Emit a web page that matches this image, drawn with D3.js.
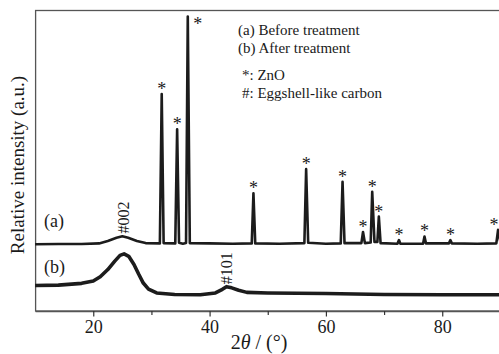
<!DOCTYPE html>
<html>
<head>
<meta charset="utf-8">
<script src="https://cdn.jsdelivr.net/npm/d3@7"></script>
<style>
  html, body { margin: 0; padding: 0; background: #fff; }
  svg { display: block; font-family: "Liberation Serif", "DejaVu Serif", serif; }
</style>
</head>
<body>
<div id="chart"></div>
<script>
// (a) before treatment: [2theta, intensity a.u.], peaks included
const seriesA = [
  [10, 22.2], [14, 22.3], [18, 22.3], [21, 22.5], [22.5, 23.3], [24, 24.4], [25, 24.9],
  [26, 24.4], [27.5, 23.3], [29, 22.6], [31.45, 22.5], [31.77, 72.2], [32.1, 22.6],
  [34.1, 22.5], [34.42, 60.5], [34.75, 22.7], [35.4, 22.4], [35.95, 22.6], [36.25, 98.0],
  [36.6, 22.6], [40, 22.5], [44, 22.4], [47.25, 22.5], [47.54, 39.2], [47.85, 22.5],
  [52, 22.4], [56.3, 22.6], [56.6, 47.2], [56.95, 22.7], [60, 22.4], [62.55, 22.5],
  [62.86, 43.0], [63.2, 22.6], [66.1, 22.6], [66.38, 26.3], [66.7, 22.6], [67.7, 22.8],
  [67.96, 39.7], [68.35, 23.0], [68.85, 23.0], [69.1, 31.4], [69.4, 22.6], [72.3, 22.4],
  [72.56, 23.6], [72.8, 22.4], [76.7, 22.4], [76.95, 24.8], [77.2, 22.5], [81.15, 22.5],
  [81.4, 23.6], [81.65, 22.5], [86, 22.4], [89.3, 22.5], [89.6, 27.0], [90, 22.8]
];

// (b) after treatment
const seriesB = [
  [10, 8.5], [14, 8.6], [18, 9.2], [20, 10.0], [21.2, 11.4], [22.5, 13.8], [23.7, 16.6],
  [24.6, 18.5], [25.3, 19.0], [26.1, 18.2], [27, 15.5], [27.8, 12.3], [28.6, 9.3],
  [29.5, 7.3], [30.9, 6.0], [34, 5.5], [38.4, 5.4], [41, 6.0], [42.2, 7.2], [42.9, 8.1],
  [43.8, 7.7], [45, 6.9], [46.4, 6.2], [50, 6.0], [60, 5.8], [70, 5.5], [80, 5.4], [90, 5.4]
];

// ZnO reflections marked with "*"
const znoTheta = [31.77, 34.42, 36.25, 47.54, 56.6, 62.86, 66.38, 67.96, 69.1, 72.56, 76.95, 81.4, 89.6];
const znoTop   = [72.2, 60.5, 98.0, 39.2, 47.2, 43.0, 26.3, 39.7, 31.4, 23.6, 24.8, 23.6, 27.0];

// eggshell-like carbon reflections marked with "#"
const carbonLabels = ["#002", "#101"];
const carbonTheta  = [25.1, 42.9];
const carbonTop    = [25.8, 8.9];

const curveLabels = ["(a)", "(b)"];
const curveLabelLevel = [29.9, 14.8];

const legendLines = ["(a) Before treatment", "(b) After treatment", "*: ZnO", "#: Eggshell-like carbon"];

const xTicks = [20, 40, 60, 80];
const xMinor = [30, 50, 70];

const width = 499, height = 354;
const plotLeft = 35.1, plotRight = 500.4, plotTop = 10.5, plotBottom = 311;

const svg = d3.select("#chart").append("svg")
  .attr("width", width)
  .attr("height", height);

const x = d3.scaleLinear().domain([10, 90]).range([plotLeft, plotRight]);
const y = d3.scaleLinear().domain([0, 100]).range([plotBottom, plotTop]);

const line = d3.line()
  .x((d) => x(d[0]))
  .y((d) => y(d[1]));

// frame
svg.append("rect")
  .attr("x", plotLeft + 0.5)
  .attr("y", plotTop)
  .attr("width", plotRight - plotLeft)
  .attr("height", plotBottom - plotTop)
  .attr("fill", "none")
  .attr("stroke", "#555")
  .attr("stroke-width", 1.3);

// data
[seriesB, seriesA].forEach((s, i) => {
  svg.append("path")
    .datum(s)
    .attr("fill", "none")
    .attr("stroke", "#1c1c1c")
    .attr("stroke-width", i === 0 ? 3.6 : 2.6)
    .attr("stroke-linejoin", "round")
    .attr("d", line);
});

// x axis
const xAxis = svg.append("g")
  .attr("transform", `translate(0,${plotBottom})`)
  .call(d3.axisBottom(x).tickValues(xTicks).tickSize(5.5).tickPadding(3.5).tickSizeOuter(0));
xAxis.select(".domain").attr("stroke", "#555").attr("stroke-width", 1.3);
xAxis.selectAll(".tick line").attr("stroke", "#333").attr("stroke-width", 1.2);
xAxis.selectAll(".tick text")
  .attr("fill", "#1a1a1a")
  .style("font-family", "Liberation Serif")
  .style("font-size", "18px");

const xAxisMinor = svg.append("g")
  .attr("transform", `translate(0,${plotBottom})`)
  .call(d3.axisBottom(x).tickValues(xMinor).tickSize(4).tickFormat(""));
xAxisMinor.select(".domain").remove();
xAxisMinor.selectAll(".tick line").attr("stroke", "#333").attr("stroke-width", 1.2);

// ZnO stars (tallest one sits to the right of its peak, last one kept inside the edge)
svg.append("g").selectAll("text")
  .data(znoTheta)
  .join("text")
  .attr("x", (d, i) => x(d) + (i === 2 ? 10 : i === znoTheta.length - 1 ? -4 : 0))
  .attr("y", (d, i) => y(znoTop[i]) + (i === 2 ? 4 : -8) + 9)
  .attr("text-anchor", "middle")
  .attr("fill", "#1a1a1a")
  .style("font-size", "18px")
  .text("*");

// carbon labels (rotated)
svg.append("g").selectAll("text")
  .data(carbonLabels)
  .join("text")
  .attr("transform", (d, i) => `translate(${x(carbonTheta[i])},${y(carbonTop[i])}) rotate(-90)`)
  .attr("dy", "0.35em")
  .attr("fill", "#1a1a1a")
  .style("font-size", "16px")
  .text((d) => d);

// curve labels
svg.append("g").selectAll("text")
  .data(curveLabels)
  .join("text")
  .attr("x", 44)
  .attr("y", (d, i) => y(curveLabelLevel[i]))
  .attr("dy", "0.35em")
  .attr("fill", "#1a1a1a")
  .style("font-size", "18px")
  .text((d) => d);

// legend block
svg.append("g").selectAll("text")
  .data(legendLines)
  .join("text")
  .attr("x", (d, i) => (i < 2 ? 238 : 242))
  .attr("y", (d, i) => [35, 53, 80, 98][i])
  .attr("fill", "#1a1a1a")
  .style("font-size", "15px")
  .text((d) => d);

// axis titles
const xTitle = svg.append("text")
  .attr("x", 259)
  .attr("y", 349)
  .attr("text-anchor", "middle")
  .attr("fill", "#1a1a1a")
  .style("font-size", "20px");
xTitle.append("tspan").text("2");
xTitle.append("tspan").style("font-style", "italic").text("θ");
xTitle.append("tspan").text(" / (°)");

svg.append("text")
  .attr("transform", "translate(17,165) rotate(-90)")
  .attr("text-anchor", "middle")
  .attr("dy", "0.35em")
  .attr("fill", "#1a1a1a")
  .style("font-size", "19px")
  .text("Relative intensity (a.u.)");
</script>
</body>
</html>
